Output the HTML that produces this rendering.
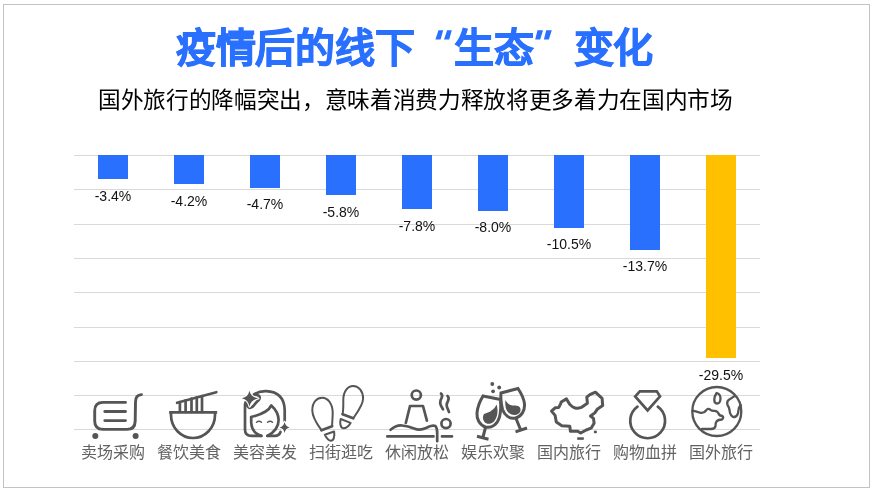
<!DOCTYPE html>
<html lang="zh-CN"><head><meta charset="utf-8">
<style>
html,body{margin:0;padding:0;background:#fff;}
body{width:875px;height:492px;position:relative;overflow:hidden;font-family:"Liberation Sans",sans-serif;}
.t,.v,.c{will-change:transform;}
.frame{position:absolute;left:3px;top:4px;width:867px;height:484px;border:1px solid #c3c3c3;box-sizing:border-box;}
.t{position:absolute;left:0;width:875px;white-space:nowrap;}
.title{font-size:40px;font-weight:700;color:#2970FF;letter-spacing:-0.3px;-webkit-text-stroke:0.9px #2970FF;}
.sub{font-size:22.66px;color:#000;letter-spacing:-0.34px;}
.ql,.qr{display:inline-block;width:40px;}
.ql{text-align:right;}
.g{position:absolute;left:74px;width:686px;height:1px;background:#d9d9d9;}
.b{position:absolute;width:30px;}
.v{position:absolute;width:80px;text-align:center;font-size:14px;color:#111;line-height:16px;}
.c{position:absolute;width:80px;text-align:center;font-size:16px;color:#626262;top:443px;line-height:20px;white-space:nowrap;}
svg{position:absolute;left:0;top:0;}
</style></head><body>
<div class="frame"></div>
<div class="t title" style="left:176px;top:16px;width:auto">疫情后的线下<span class="ql"></span>生态<span class="qr"></span>变化</div>
<div class="t sub" style="left:98px;top:82px;width:auto">国外旅行的降幅突出，意味着消费力释放将更多着力在国内市场</div>
<div class="g" style="top:155.0px"></div>
<div class="g" style="top:189.3px"></div>
<div class="g" style="top:223.6px"></div>
<div class="g" style="top:257.9px"></div>
<div class="g" style="top:292.2px"></div>
<div class="g" style="top:326.5px"></div>
<div class="g" style="top:360.8px"></div>
<div class="g" style="top:395.1px"></div>
<div class="g" style="top:429.4px"></div>
<div class="b" style="left:98px;top:155.0px;height:23.9px;background:#2970FF"></div>
<div class="b" style="left:174px;top:155.0px;height:29.4px;background:#2970FF"></div>
<div class="b" style="left:250px;top:155.0px;height:32.8px;background:#2970FF"></div>
<div class="b" style="left:326px;top:155.0px;height:40.4px;background:#2970FF"></div>
<div class="b" style="left:402px;top:155.0px;height:54.1px;background:#2970FF"></div>
<div class="b" style="left:478px;top:155.0px;height:55.5px;background:#2970FF"></div>
<div class="b" style="left:554px;top:155.0px;height:72.6px;background:#2970FF"></div>
<div class="b" style="left:630px;top:155.0px;height:94.6px;background:#2970FF"></div>
<div class="b" style="left:706px;top:155.0px;height:203.0px;background:#FFC000"></div>
<div class="v" style="left:73px;top:187.5px">-3.4%</div>
<div class="v" style="left:149px;top:193.0px">-4.2%</div>
<div class="v" style="left:225px;top:196.4px">-4.7%</div>
<div class="v" style="left:301px;top:204.0px">-5.8%</div>
<div class="v" style="left:377px;top:217.7px">-7.8%</div>
<div class="v" style="left:453px;top:219.1px">-8.0%</div>
<div class="v" style="left:529px;top:236.2px">-10.5%</div>
<div class="v" style="left:605px;top:258.2px">-13.7%</div>
<div class="v" style="left:681px;top:366.6px">-29.5%</div>
<div class="c" style="left:73px">卖场采购</div>
<div class="c" style="left:149px">餐饮美食</div>
<div class="c" style="left:225px">美容美发</div>
<div class="c" style="left:301px">扫街逛吃</div>
<div class="c" style="left:377px">休闲放松</div>
<div class="c" style="left:453px">娱乐欢聚</div>
<div class="c" style="left:529px">国内旅行</div>
<div class="c" style="left:605px">购物血拼</div>
<div class="c" style="left:681px">国外旅行</div>

<svg width="875" height="492" viewBox="0 0 875 492" fill="none" stroke="#555" stroke-width="2.7" stroke-linecap="round" stroke-linejoin="round">
<!-- cart -->
<g stroke-width="2.9">
<path d="M125.5 402.4 H103 Q94.7 402.4 94.7 410.7 V421.1 Q94.7 429.4 103 429.4 H127 Q135 429.4 135.2 421.1 L135.5 402 Q135.5 394.8 141.5 394.6"/>
<path d="M104.8 411.5 H125.5 M104.8 420.6 H125.5"/>
<circle cx="95.3" cy="435.9" r="3" fill="#555" stroke="none"/>
<circle cx="135.6" cy="435.9" r="3" fill="#555" stroke="none"/>
</g>
<!-- bowl -->
<g>
<path d="M170.5 412.3 H215.8" stroke-linecap="square"/>
<path d="M171 412.3 V415 A22 23 0 0 0 215 415 V412.3"/>
<path d="M177.1 402.8 L216.3 392.2"/>
<path d="M179.9 412 V402 M185.6 412 V400.3 M191.5 412 V398.7 M196.8 412 V397.3 M202 412 V396"/>
</g>
<!-- face -->
<g>
<path d="M261.3 435.9 H251.5 Q245 435.9 245 429.5 V404.5 Q245.2 402 246.3 401.3 Q247.2 407.3 249.6 407.9 Q252 408.2 254 405.2 Q256.2 402.3 258.5 400.3 Q260.6 397.8 259 395.8 Q257 394.3 253.6 394.6 Q259.5 391 266 391.2 Q284.2 392 284.7 410 V421"/>
<path d="M267.4 435.9 H275 Q279 435.9 280.5 432"/>
<path d="M251.2 417 V423 Q252 433 261.3 435.9"/>
<path d="M267.4 435.9 Q278.6 430 278.6 420 Q278.6 412 271.3 405.4 Q268 413 251.2 417"/>
<path d="M256.5 422.3 Q259 420.3 261.5 422.3 M267.5 422.3 Q270 420.3 272.5 422.3" stroke-width="1.4"/>
<path d="M249.4 390.8 Q250.8 397.2 258.4 398.5 Q250.8 399.6 249.6 406.6 Q248.2 399.6 241.8 398.2 Q248.2 397.2 249.4 390.8Z" fill="#555" stroke="#fff" stroke-width="2.2" paint-order="stroke" stroke-linejoin="round"/>
<path d="M284.6 421.8 Q285.4 426.6 289.6 427.4 Q285.4 428.2 284.6 433 Q283.8 428.2 279.6 427.4 Q283.8 426.6 284.6 421.8Z" fill="#555" stroke="#fff" stroke-width="2" paint-order="stroke" stroke-linejoin="round"/>
</g>
<!-- footprints -->
<g stroke-width="2">
<path d="M321.5 430.2 C317 424 312.3 417 312.3 410.4 C312.3 402 317 397.8 322.2 397.8 C328 397.8 332.7 404 332.7 413 C332.7 418 332.1 422 332.1 426.2" />
<path d="M321.5 430.2 L332.1 426.2" stroke-width="2.8"/>
<path d="M324.8 434.8 L334.1 431.5 C335 437 333.5 440.8 330.8 440.8 C328.5 440.8 326.5 438 324.8 434.8Z"/>
<path d="M342.6 414.3 C343.5 409 343.3 404 343.3 399.8 C343.3 391 348 385.9 353.2 385.9 C358.5 385.9 363.1 391 363.1 398.5 C363.1 405 357.5 412 353.2 418.3"/>
<path d="M342.6 414.3 L353.2 418.3" stroke-width="2.8"/>
<path d="M340.7 419 L350.6 422.9 C348.5 426.5 346 428.2 343.3 428.2 C340.5 428.2 339.5 423 340.7 419Z"/>
</g>
<!-- spa -->
<g>
<circle cx="416.3" cy="395.1" r="4.6"/>
<path d="M405.8 423 L410 406 H423 L426.9 420.6"/>
<path d="M390.6 429.8 Q396 425 402 425.5 Q408 426 414 428.5 Q420 431 426 428 Q432 424.5 435.5 426 Q437.2 428 437.2 433 V441.2"/>
<path d="M387.3 436.4 H433.5 M442 436.4 H452"/>
<circle cx="446" cy="423.6" r="4.6"/>
<path d="M441 393.5 Q443 395.2 441.5 398.2 Q439 402.7 441.5 406.7 L443 409.4" />
<path d="M447.5 396 Q449.5 397.5 448 401 Q445.5 405 447.8 409 L449 412"/>
</g>
<!-- wine -->
<g stroke-width="3" stroke-linecap="butt">
<path d="M483 396 L500.5 399.5 C501 405 501 411 499.5 417 C497.5 424.5 491.5 428.5 485.5 427 C479.5 425 476.5 419 477 413 C477.5 407 480 401 483 396Z" stroke-linejoin="miter"/>
<path d="M485.5 427.5 L483 437 M477 436.3 L488.5 439.3"/>
<path d="M484 414 C489.5 412.5 494.5 409.5 496.5 404.5 C498.5 410.5 497.5 417.5 494 421.5 C491 424.5 486.5 424.5 484.5 422 C482.5 419.5 482.5 416 484 414Z" fill="#555" stroke="none"/>
<path d="M501 393 L518 388.5 C521 393 524 398.5 524.5 404 C525 410.5 521.5 416.5 515.5 418 C509.5 419.5 504.5 415 502.5 409.5 C501 404 500.5 398.5 501 393Z" stroke-linejoin="miter"/>
<path d="M516 418.5 L520.5 429.5 M515.5 431.8 L527 428"/>
<path d="M505.5 400 C507 403.5 510 405.5 514 405.5 C517 405.3 520 405.8 520.5 409 C521 412.5 518 415 514.5 415 C510 415 506 411.5 505.5 406 C505.2 404 505.2 402 505.5 400Z" fill="#555" stroke="none"/>
<circle cx="492.3" cy="384" r="1.9" fill="#555" stroke="none"/>
<circle cx="499.2" cy="387.5" r="1.9" fill="#555" stroke="none"/>
<circle cx="493.1" cy="391.3" r="1.9" fill="#555" stroke="none"/>
</g>
<!-- china -->
<g stroke-width="3">
<path d="M551.5 411.1 L555.1 407.8 L558.8 407.4 L560.6 403.8 L561.2 402 L566.5 398.9 L569.8 404.4 Q572 407 575.2 408 Q578 408.5 581.3 407.4 L587.4 403.2 L586.8 397.1 L589.9 394.6 L595.4 392.2 L602.1 398.3 L602.7 405.6 L597.2 409.3 L594.8 412.9 L590.5 416 L593.5 418.4 L594.1 423.3 L591.1 428.2 L586.2 430 L580.7 433 L577.7 431.2 L570.4 431.2 L569.8 426.3 L561.8 425.7 L556.3 422.1 L555.1 415.4 Z"/>
<rect x="577.2" y="437.3" width="6.6" height="2.5" fill="#555" stroke="none"/>
<rect x="593.9" y="430.7" width="2.9" height="2.5" fill="#555" stroke="none"/>
</g>
<!-- ring -->
<g>
<path d="M639.8 391.3 H656.8 L660 396.4 L647.6 410.4 L635.2 396.4 Z" stroke-linejoin="miter"/>
<path d="M637.5 406.7 A17.4 17.4 0 1 0 657.8 406.7"/>
</g>
<!-- globe -->
<g stroke-width="2.3">
<circle cx="716.8" cy="411.5" r="24.5"/>
<path d="M692.6 410.7 Q697 411.5 700 412.7 Q704 413.5 706 410.5 Q708 407.5 710.5 409.8 Q712 411 714.5 410.8 Q717.5 411 718.5 413.5 Q719.5 416 722.5 416 Q724 417.5 722 419.5 Q718 419.5 716.5 421.5 Q715.5 423 715.5 426 Q715 429 711 429 H702"/>
<path d="M716.6 393 Q720.5 394 720.5 398.5 Q720.3 403.5 717 403.5 Q714.2 403.3 714.3 399.5 Q714.5 396 716.6 393Z"/>
<path d="M734.5 396.1 Q731 398.5 728.5 400 Q726.5 402 727.5 405 Q729 407 729.5 410 Q730 415 732.8 416.8 Q736.5 417.8 738 413.3 Q738.5 410 739 407.5 Q739.5 406 741 405.5"/>
</g>
</svg>
<svg width="875" height="492" viewBox="0 0 875 492" fill="#2970FF">
<path d="M438.5 30.2 H443.2 L440.6 39.6 H435.4Z M447.1 30.2 H451.8 L449.2 39.6 H444Z"/>
<path d="M537.5 30.2 H543 L540.2 39.6 H535.2Z M546.2 30.2 H551.8 L548.8 39.6 H543.9Z"/>
</svg>

</body></html>
